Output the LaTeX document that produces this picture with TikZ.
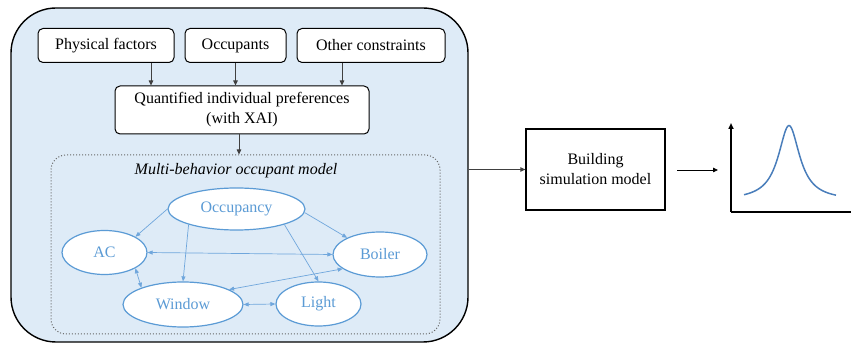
\documentclass[tikz,border=0pt]{standalone}
\usepackage{fontspec}
\setmainfont{Liberation Serif}
\usetikzlibrary{arrows.meta,shapes.geometric}
\definecolor{bgblue}{HTML}{DEEBF7}
\definecolor{ellblue}{HTML}{5B9BD5}
\definecolor{edgeblue}{HTML}{6FA6DC}
\definecolor{curveblue}{HTML}{4A7EBB}
\tikzset{
  txt/.style={font=\fontsize{16pt}{20pt}\selectfont},
  topbox/.style={txt, draw=black, fill=white, rounded corners=5pt, line width=1pt, inner sep=0pt, align=center},
  ell/.style={txt, ellipse, draw=ellblue, fill=white, line width=1.2pt, text=ellblue, inner sep=0pt},
  blk/.style={draw=black!75, line width=0.8pt, -{Triangle[length=5pt,width=4.5pt]}},
  bedge/.style={draw=edgeblue, line width=0.7pt, -{Triangle[length=5pt,width=4pt]}},
  bbedge/.style={draw=edgeblue, line width=0.7pt, {Triangle[length=5pt,width=4pt]}-{Triangle[length=5pt,width=4pt]}},
}
\begin{document}
\begin{tikzpicture}[x=1pt,y=-1pt]
\useasboundingbox (0,0) rectangle (851,344);
% outer container
\node[draw=black, fill=bgblue, line width=1.4pt, rounded corners=45pt, minimum width=457pt, minimum height=334pt, inner sep=0pt] (outer) at (239.5,175) {};
% dotted model container
\node[draw=black!60, dotted, line width=1pt, rounded corners=15pt, minimum width=389pt, minimum height=179pt, inner sep=0pt] (model) at (245.5,244.5) {};
\node[txt, font=\fontsize{16pt}{20pt}\selectfont\itshape] (title) at (236,170.5) {Multi-behavior occupant model};
% top boxes
\node[topbox, minimum width=136pt, minimum height=34pt] (phys) at (106,45.5) {Physical factors};
\node[topbox, minimum width=101pt, minimum height=34pt] (occp) at (235.5,45.5) {Occupants};
\node[topbox, minimum width=148pt, minimum height=34pt] (other) at (371,45.5) {Other constraints};
\node[topbox, minimum width=254pt, minimum height=48pt] (quant) at (242,110) {Quantified individual preferences\\(with XAI)};
\draw[blk] (phys.south -| 151,0) -- (quant.north -| 151,0);
\draw[blk] (occp.south) -- (quant.north -| occp.south);
\draw[blk] (other.south -| 342,0) -- (quant.north -| 342,0);
\draw[blk] (quant.south -| 239,0) -- (model.north -| 239,0);
% ellipses
\node[ell, minimum width=137pt, minimum height=42pt] (occ) at (236.5,209) {Occupancy};
\node[ell, minimum width=85pt, minimum height=44pt] (ac) at (104.5,252.5) {AC};
\node[ell, minimum width=94pt, minimum height=45pt] (boiler) at (380,254.5) {Boiler};
\node[ell, minimum width=120pt, minimum height=45pt] (window) at (183,304.5) {Window};
\node[ell, minimum width=85pt, minimum height=44pt] (light) at (318.5,304) {Light};
% edges
\draw[bedge] (occ.west) -- (ac.27);
\draw[bedge] (occ.198) -- (window.north);
\draw[bedge] (occ.342) -- (light.north);
\draw[bedge] (occ.357) -- (boiler.153);
\draw[bbedge] (ac.east) -- (boiler.west);
\draw[bbedge] (ac.333) -- (window.158);
\draw[bbedge] (boiler.201) -- (window.18);
\draw[bbedge] (window.east) -- (light.west);
% building simulation model
\node[txt, draw=black, line width=1.3pt, minimum width=139pt, minimum height=81pt, align=center, inner sep=0pt] (bsm) at (595.5,169.5) {Building\\simulation model};
\draw[blk] (outer.east |- bsm.west) -- (bsm.west);
\coordinate (a1) at (677,170);
\coordinate (a2) at (718,170);
\draw[draw=black, line width=0.8pt, -{Triangle[length=5pt,width=4.5pt]}] (a1) -- (a2);
% plot
\coordinate (origin) at (731,212);
\coordinate (ytop) at (731,123);
\coordinate (xend) at (851,212);
\draw[line width=1.5pt, -{Triangle[length=6pt,width=5pt]}] (origin) -- (ytop);
\draw[line width=1.5pt] (origin) -- (xend);
\draw[curveblue, line width=1.5pt, smooth] plot[domain=744:836, samples=90] (\x, {200.5 - 75/(1+((\x-789)/13)^2)});
\end{tikzpicture}
\end{document}
